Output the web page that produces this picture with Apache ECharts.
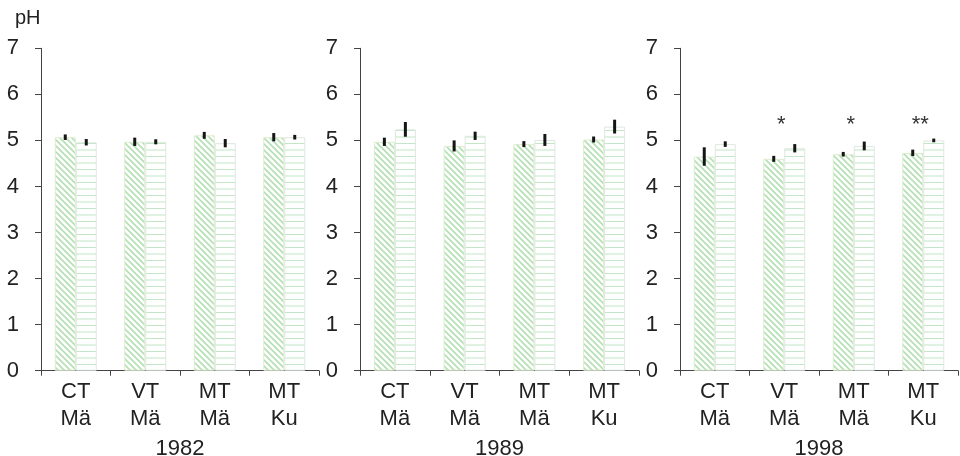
<!DOCTYPE html>
<html>
<head>
<meta charset="utf-8">
<script src="https://cdn.jsdelivr.net/npm/echarts@6/dist/echarts.min.js"></script>
<style>html,body{margin:0;padding:0;background:#fff}#c{width:960px;height:456px}</style>
</head>
<body>
<div id="c"></div>
<script>
const categories = ['CT\nMä', 'VT\nMä', 'MT\nMä', 'MT\nKu'];
const years = ['1982', '1989', '1998'];
const yTicks = [0, 1, 2, 3, 4, 5, 6, 7];
const yLabel = 'pH';

const meanA1982 = [5.07, 4.97, 5.11, 5.07];
const errA1982  = [0.06, 0.09, 0.075, 0.09];
const meanB1982 = [4.96, 4.97, 4.94, 5.07];
const errB1982  = [0.07, 0.055, 0.09, 0.05];

const meanA1989 = [4.97, 4.88, 4.92, 5.02];
const errA1989  = [0.09, 0.12, 0.065, 0.065];
const meanB1989 = [5.24, 5.10, 5.01, 5.30];
const errB1989  = [0.16, 0.09, 0.13, 0.15];

const meanA1998 = [4.65, 4.60, 4.70, 4.73];
const errA1998  = [0.20, 0.065, 0.05, 0.07];
const meanB1998 = [4.92, 4.83, 4.88, 5.00];
const errB1998  = [0.06, 0.09, 0.095, 0.04];

const sig1998 = ['', '*', '*', '**'];

const panels = [
  {year: years[0], a: meanA1982, ea: errA1982, b: meanB1982, eb: errB1982, sig: null},
  {year: years[1], a: meanA1989, ea: errA1989, b: meanB1989, eb: errB1989, sig: null},
  {year: years[2], a: meanA1998, ea: errA1998, b: meanB1998, eb: errB1998, sig: sig1998}
];

function diagPattern() {
  const c = document.createElement('canvas');
  c.width = 6; c.height = 6;
  const g = c.getContext('2d');
  g.fillStyle = '#ffffff'; g.fillRect(0, 0, 6, 6);
  g.strokeStyle = '#b3e0b3'; g.lineWidth = 1.6;
  g.beginPath();
  g.moveTo(-1, -1); g.lineTo(7, 7);
  g.moveTo(-1, 5); g.lineTo(1, 7);
  g.moveTo(5, -1); g.lineTo(7, 1);
  g.stroke();
  return c;
}
function horizPattern() {
  const c = document.createElement('canvas');
  c.width = 8; c.height = 13;
  const g = c.getContext('2d');
  g.fillStyle = '#ffffff'; g.fillRect(0, 0, 8, 13);
  g.fillStyle = '#c2e6c6';
  g.fillRect(0, 0, 8, 1);
  g.fillRect(0, 6.5, 8, 1);
  return c;
}
const patA = {image: diagPattern(), repeat: 'repeat'};
const patB = {image: horizPattern(), repeat: 'repeat'};

const FONT = 'Liberation Sans, Arial, sans-serif';
const gridLefts = [41, 360, 680];
const gridWidths = [278, 279, 278];

const grid = [], xAxis = [], yAxis = [], series = [];

function errSeries(idx, means, errs, dir) {
  return {
    type: 'custom', xAxisIndex: idx, yAxisIndex: idx, z: 5,
    data: means.map((m, i) => [i, m, errs[i]]),
    renderItem: function (params, api) {
      const i = api.value(0), m = api.value(1), e = api.value(2);
      const top = api.coord([i, m + e]);
      const bot = api.coord([i, m - e]);
      const x = top[0] + dir * 10.5;
      return {type: 'line', shape: {x1: x, y1: top[1], x2: x, y2: bot[1]},
              style: {stroke: '#151515', lineWidth: 3}};
    }
  };
}

panels.forEach((p, k) => {
  grid.push({left: gridLefts[k], width: gridWidths[k], top: 48.3, bottom: 85.3,
             containLabel: false, outerBoundsMode: 'none'});
  xAxis.push({
    type: 'category', gridIndex: k, data: categories,
    axisLine: {lineStyle: {color: '#444', width: 1}},
    axisTick: {show: true, length: 5, lineStyle: {color: '#444'}},
    axisLabel: {fontSize: 22, lineHeight: 27, color: '#222', margin: 8, fontFamily: FONT},
    name: p.year, nameLocation: 'middle', nameGap: 56,
    nameTextStyle: {fontSize: 22, color: '#222', fontFamily: FONT}
  });
  yAxis.push({
    type: 'value', gridIndex: k, min: yTicks[0], max: yTicks[yTicks.length - 1], interval: 1,
    axisLine: {show: true, lineStyle: {color: '#444', width: 1}},
    axisTick: {show: true, length: 6, lineStyle: {color: '#444'}},
    splitLine: {show: false},
    axisLabel: {fontSize: 22, color: '#222', margin: 22, fontFamily: FONT}
  });
  series.push({
    type: 'bar', xAxisIndex: k, yAxisIndex: k, data: p.a, barWidth: 21, barGap: '0%',
    itemStyle: {color: patA, borderColor: '#dfeccf', borderWidth: 1},
    emphasis: {disabled: true}
  });
  series.push({
    type: 'bar', xAxisIndex: k, yAxisIndex: k, data: p.b, barWidth: 21, barGap: '0%',
    itemStyle: {color: patB, borderColor: '#dde8e0', borderWidth: 1},
    emphasis: {disabled: true}
  });
  series.push(errSeries(k, p.a, p.ea, -1));
  series.push(errSeries(k, p.b, p.eb, 1));
  if (p.sig) {
    series.push({
      type: 'custom', xAxisIndex: k, yAxisIndex: k, z: 6,
      data: p.sig.map((s, i) => [i, 5.33, s]),
      renderItem: function (params, api) {
        const pt = api.coord([api.value(0), api.value(1)]);
        return {type: 'text', x: pt[0] - 3, y: pt[1],
                style: {text: p.sig[params.dataIndex], fontSize: 22, fill: '#333',
                        align: 'center', verticalAlign: 'middle', fontFamily: FONT}};
      }
    });
  }
});

const chart = echarts.init(document.getElementById('c'), null, {renderer: 'canvas'});
chart.setOption({
  animation: false,
  backgroundColor: '#ffffff',
  grid: grid, xAxis: xAxis, yAxis: yAxis, series: series,
  graphic: [{type: 'text', left: 15, top: 8,
             style: {text: yLabel, fontSize: 20, fill: '#222', fontFamily: FONT}}]
});
</script>
</body>
</html>
